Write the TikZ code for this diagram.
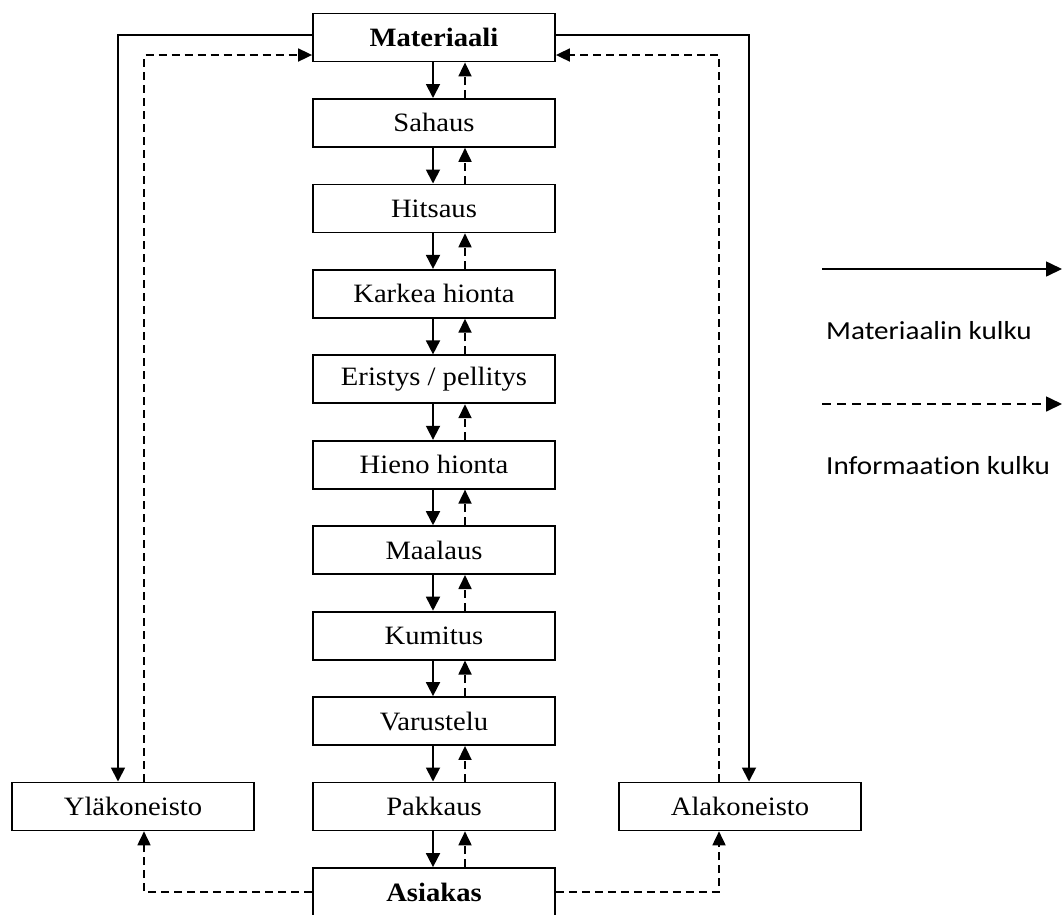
\documentclass[tikz,border=0pt]{standalone}
\usepackage{fontspec}
\setmainfont[FakeStretch=1.08]{Liberation Serif}
\newfontfamily\legendfont[FakeStretch=1.12, Ligatures=NoCommon]{Carlito}
\usetikzlibrary{arrows.meta}

\tikzset{
  stage/.style={draw, line width=1.8pt, minimum width=242pt, minimum height=48pt,
    inner sep=0pt, font=\fontsize{26.5}{30}\selectfont},
  keystage/.style={stage, font=\fontsize{26.5}{30}\selectfont\bfseries},
  matflow/.style={line width=1.8pt, -{Triangle[length=14pt,width=14pt]}},
  infoflow/.style={line width=1.8pt, dash pattern=on 8pt off 5pt,
    -{Triangle[length=14pt,width=13pt]}},
  legendline/.style={line width=1.6pt, -{Triangle[length=16pt,width=15pt]}},
  legendtext/.style={anchor=base west, inner sep=0pt,
    font=\legendfont\fontsize{26}{30}\selectfont}
}

\begin{document}
\begin{tikzpicture}[x=1pt, y=-1pt]
  \useasboundingbox (0,0) rectangle (1064,914);

  % main production chain
  \node[keystage] (mat) at (434,37.5)   {Materiaali};
  \node[stage]    (s1)  at (434,122.9)  {Sahaus};
  \node[stage]    (s2)  at (434,208.4)  {Hitsaus};
  \node[stage]    (s3)  at (434,293.8)  {Karkea hionta};
  \node[stage]    (s4)  at (434,379.3)  {Eristys / pellitys};
  \node[stage]    (s5)  at (434,464.7)  {Hieno hionta};
  \node[stage]    (s6)  at (434,550.1)  {Maalaus};
  \node[stage]    (s7)  at (434,635.6)  {Kumitus};
  \node[stage]    (s8)  at (434,721.0)  {Varustelu};
  \node[stage]    (s9)  at (434,806.4)  {Pakkaus};
  \node[keystage] (asi) at (434,892)    {Asiakas};

  % side assemblies
  \node[stage] (yla) at (133,806.4) {Yläkoneisto};
  \node[stage] (ala) at (740,806.4) {Alakoneisto};

  % material down / information up between consecutive stages
  \foreach \a/\b in {mat/s1, s1/s2, s2/s3, s3/s4, s4/s5, s5/s6, s6/s7, s7/s8, s8/s9, s9/asi} {
    \draw[matflow]  ([xshift=-1pt]\a.south) -- ([xshift=-1pt]\b.north);
    \draw[infoflow] ([xshift=31pt]\b.north) -- ([xshift=31pt]\a.south);
  }

  % loops to the side assemblies
  \draw[matflow]  ([yshift=2.5pt]mat.west) -| ([xshift=-15pt]yla.north);
  \draw[infoflow] ([xshift=11pt]yla.north) |- ([yshift=-17.5pt]mat.west);
  \draw[matflow]  ([yshift=2.5pt]mat.east) -| ([xshift=9pt]ala.north);
  \draw[infoflow] ([xshift=-21pt]ala.north) |- ([yshift=-17.5pt]mat.east);

  % customer information to the side assemblies
  \draw[infoflow] (asi.west) -| ([xshift=11pt]yla.south);
  \draw[infoflow] (asi.east) -| ([xshift=-21pt]ala.south);

  % legend
  \coordinate (l1a) at (822,269);
  \coordinate (l1b) at (1062,269);
  \coordinate (l2a) at (822,404);
  \coordinate (l2b) at (1062,404);
  \draw[legendline] (l1a) -- (l1b);
  \draw[legendline, dash pattern=on 9pt off 6pt] (l2a) -- (l2b);
  \node[legendtext] (lt1) at (826,339) {Materiaalin kulku};
  \node[legendtext] (lt2) at (826,474) {Informaation kulku};
\end{tikzpicture}
\end{document}
